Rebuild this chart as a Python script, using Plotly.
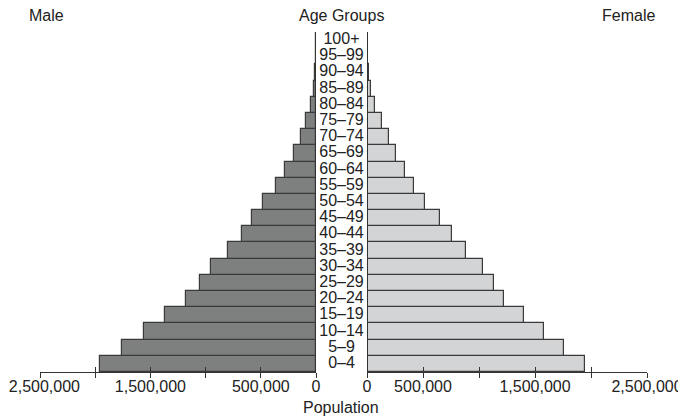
import plotly.graph_objects as go

# age groups, bottom to top
ages = ["0–4", "5–9", "10–14", "15–19", "20–24", "25–29", "30–34",
        "35–39", "40–44", "45–49", "50–54", "55–59", "60–64", "65–69",
        "70–74", "75–79", "80–84", "85–89", "90–94", "95–99", "100+"]

male = [1960000, 1760000, 1555000, 1372000, 1177000, 1054000, 947000,
        800000, 667000, 584000, 476000, 364000, 281000, 197000,
        134000, 88000, 48000, 22000, 10000, 4000, 1000]

female = [1949000, 1763000, 1578000, 1404000, 1227000, 1132000, 1038000,
          887000, 761000, 651000, 521000, 418000, 339000, 260000,
          196000, 130000, 72000, 38000, 16000, 8000, 3000]

tick_vals = [0, 500000, 1000000, 1500000, 2000000, 2500000]
tick_text_left = ["0", "500,000", "", "1,500,000", "", ""]
tick_text_right = ["0", "500,000", "", "1,500,000", "", "2,500,000"]
# outer left label sits a touch inward so it stays on the page
edge_label_val = [2460000]
edge_label_text = ["2,500,000"]

# page body has an 8px margin, so the figure is 8px smaller each way
W, H = 678, 409
FONT = "Liberation Sans, Arial, sans-serif"
INK = "#222222"

left_dom = [32 / W, 308 / W]
mid_dom = [308 / W, 359 / W]
right_dom = [359 / W, 639 / W]
PLOT_H = 340

fig = go.Figure()
fig.add_trace(go.Bar(y=ages, x=male, orientation="h", xaxis="x", yaxis="y",
                     marker=dict(color="#7e7f7f", line=dict(color="#3a3a3a", width=1.2)),
                     showlegend=False))
fig.add_trace(go.Bar(y=ages, x=female, orientation="h", xaxis="x2", yaxis="y",
                     marker=dict(color="#d3d4d5", line=dict(color="#3a3a3a", width=1.2)),
                     showlegend=False))
fig.add_trace(go.Scatter(y=ages, x=[0] * len(ages), mode="text", text=ages,
                         xaxis="x3", yaxis="y",
                         textfont=dict(family=FONT, size=16, color=INK),
                         showlegend=False, hoverinfo="skip"))

tick_font = dict(family=FONT, size=16, color=INK)
axis_common = dict(tickvals=tick_vals, showline=True,
                   linecolor="#333333", linewidth=1, ticks="inside", ticklen=5,
                   tickcolor="#333333", showgrid=False, zeroline=False, anchor="y",
                   fixedrange=True, automargin=False, ticklabeloverflow="allow",
                   tickfont=tick_font)
outer_ticks = dict(tickvals=tick_vals, ticks="outside", ticklen=5, automargin=False,
                   tickcolor="#333333", showticklabels=False, showgrid=False,
                   zeroline=False, showline=False, anchor="y", side="bottom")

fig.update_layout(
    width=W, height=H, autosize=False,
    margin=dict(l=0, r=0, t=24, b=45, pad=0, autoexpand=False),
    paper_bgcolor="white", plot_bgcolor="white",
    bargap=0,
    xaxis=dict(domain=left_dom, range=[2500000, 0], ticktext=tick_text_left, **axis_common),
    xaxis2=dict(domain=right_dom, range=[0, 2500000], ticktext=tick_text_right, **axis_common),
    xaxis3=dict(domain=mid_dom, range=[-1, 1], visible=False, anchor="y", automargin=False),
    xaxis4=dict(overlaying="x", range=[2500000, 0], **outer_ticks),
    xaxis5=dict(overlaying="x2", range=[0, 2500000], **outer_ticks),
    xaxis6=dict(overlaying="x", range=[2500000, 0], anchor="y", side="bottom",
                tickvals=edge_label_val, ticktext=edge_label_text,
                ticks="inside", ticklen=5, tickcolor="rgba(0,0,0,0)",
                showline=True, linecolor="#333333", linewidth=1,
                showgrid=False, zeroline=False, automargin=False,
                ticklabeloverflow="allow", tickfont=tick_font),
    yaxis=dict(type="category", categoryarray=ages, range=[-0.5, len(ages) - 0.5],
               anchor="x3", showline=True, mirror=True, linecolor="#333333",
               linewidth=1, showticklabels=False, ticks="", showgrid=False,
               zeroline=False, fixedrange=True, automargin=False),
    font=dict(family=FONT, size=16, color=INK),
)

# invisible traces so the overlay axes get drawn
for ax in ["x4", "x5", "x6"]:
    fig.add_trace(go.Scatter(x=[None], y=[None], xaxis=ax, yaxis="y", showlegend=False))

top_y = 1 + 16 / PLOT_H
for txt, xp in [("Male", 38 / W), ("Age Groups", 333 / W), ("Female", 620 / W)]:
    fig.add_annotation(text=txt, x=xp, y=top_y, xref="paper", yref="paper",
                       showarrow=False, xanchor="center", yanchor="middle",
                       font=dict(family=FONT, size=16, color=INK))
fig.add_annotation(text="Population", x=333 / W, y=-35 / PLOT_H, xref="paper", yref="paper",
                   showarrow=False, xanchor="center", yanchor="middle",
                   font=dict(family=FONT, size=16, color=INK))

fig.write_html("out.html")
